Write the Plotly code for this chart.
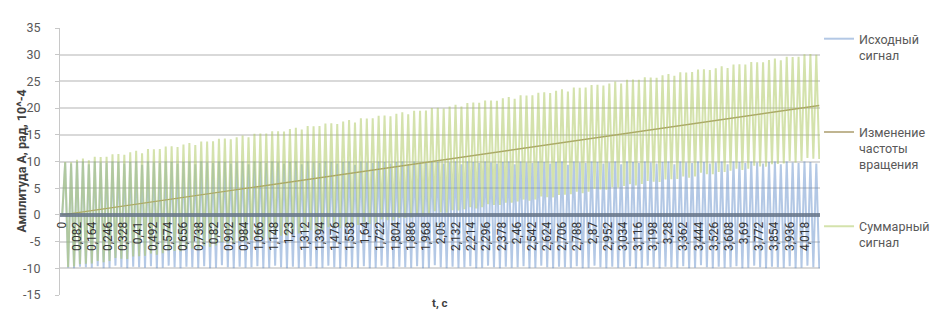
import plotly.graph_objects as go

# ---------------- data ----------------
SAMPLE_STEP = 0.016  # s between samples

# Исходный сигнал (oscillating, amplitude ~10)
BLUE = [
    0, 9.8, -9.9, 9.6, -10, 9.9, -9.7, 10, -9.8, 9.5, -9.9, 10, -9.6, 9.8, -10, 9.7,
    -9.9, 10, -9.5, 9.9, -9.8, 9.6, -10, 9.9, -9.7, 10, -9.8, 9.4, -9.9, 10, -9.6, 9.8,
    -10, 9.7, -9.9, 10, -9.5, 9.9, -9.8, 9.6, -10, 9.9, -9.7, 10, -9.8, 9.5, -9.9, 10,
    -9.6, 9.8, -10, 9.7, -9.9, 10, -9.4, 9.9, -9.8, 9.6, -10, 9.8, -9.7, 10, -9.9, 9.5,
    -9.8, 10, -9.6, 9.9, -10, 9.7, -9.9, 10, -9.5, 9.8, -9.8, 9.6, -10, 9.9, -9.7, 10,
    -9.9, 9.5, -9.8, 10, -9.6, 9.8, -10, 9.7, -9.9, 10, -9.5, 9.9, -9.8, 9.6, -10, 9.9,
    -9.7, 10, -9.8, 9.4, -9.9, 10, -9.6, 9.8, -10, 9.7, -9.9, 10, -9.5, 9.9, -9.8, 9.6,
    -10, 9.9, -9.7, 10, -9.8, 9.5, -9.9, 10, -9.6, 9.8, -10, 9.7, -9.9, 10, -9.4, 9.9,
    -9.8, 9.6, -10, 9.8, -9.7, 10, -9.9, 9.5, -9.8, 10, -9.6, 9.9, -10, 9.7, -9.9, 10,
    -9.5, 9.8, -9.8, 9.6, -10, 9.9, -9.7, 10, -9.9, 9.5, -9.8, 10, -9.6, 9.8, -10, 9.7,
    -9.9, 10, -9.5, 9.9, -9.8, 9.6, -10, 9.9, -9.7, 10, -9.8, 9.4, -9.9, 10, -9.6, 9.8,
    -10, 9.7, -9.9, 10, -9.5, 9.9, -9.8, 9.6, -10, 9.8, -9.7, 10, -9.9, 9.5, -9.8, 10,
    -9.6, 9.9, -10, 9.7, -9.9, 10, -9.5, 9.8, -9.8, 9.6, -10, 9.9, -9.7, 10, -9.8, 9.5,
    -9.9, 10, -9.6, 9.8, -10, 9.7, -9.9, 10, -9.4, 9.9, -9.8, 9.6, -10, 9.8, -9.7, 10,
    -9.9, 9.5, -9.8, 10, -9.6, 9.9, -10, 9.7, -9.9, 10, -9.5, 9.8, -9.8, 9.6, -10, 9.9,
    -9.7, 10, -9.8, 9.5, -9.9, 10, -9.6, 9.8, -10, 9.7, -9.9, 10, -9.5, 9.9, -9.8, 9.6,
    -10,
]

# Изменение частоты вращения (slow linear rise)
TREND = [
    0, 0.08, 0.16, 0.24, 0.32, 0.40, 0.48, 0.56, 0.64, 0.72, 0.80, 0.88, 0.96, 1.04, 1.12, 1.20,
    1.28, 1.36, 1.44, 1.52, 1.60, 1.68, 1.76, 1.84, 1.92, 2.00, 2.08, 2.16, 2.24, 2.32, 2.40, 2.48,
    2.56, 2.64, 2.72, 2.80, 2.88, 2.96, 3.04, 3.12, 3.20, 3.28, 3.36, 3.44, 3.52, 3.60, 3.68, 3.76,
    3.84, 3.92, 4.00, 4.08, 4.16, 4.24, 4.32, 4.40, 4.48, 4.56, 4.64, 4.72, 4.80, 4.88, 4.96, 5.04,
    5.12, 5.20, 5.28, 5.36, 5.44, 5.52, 5.60, 5.68, 5.76, 5.84, 5.92, 6.00, 6.08, 6.16, 6.24, 6.32,
    6.40, 6.48, 6.56, 6.64, 6.72, 6.80, 6.88, 6.96, 7.04, 7.12, 7.20, 7.28, 7.36, 7.44, 7.52, 7.60,
    7.68, 7.76, 7.84, 7.92, 8.00, 8.08, 8.16, 8.24, 8.32, 8.40, 8.48, 8.56, 8.64, 8.72, 8.80, 8.88,
    8.96, 9.04, 9.12, 9.20, 9.28, 9.36, 9.44, 9.52, 9.60, 9.68, 9.76, 9.84, 9.92, 10.00, 10.08, 10.16,
    10.24, 10.32, 10.40, 10.48, 10.56, 10.64, 10.72, 10.80, 10.88, 10.96, 11.04, 11.12, 11.20, 11.28, 11.36, 11.44,
    11.52, 11.60, 11.68, 11.76, 11.84, 11.92, 12.00, 12.08, 12.16, 12.24, 12.32, 12.40, 12.48, 12.56, 12.64, 12.72,
    12.80, 12.88, 12.96, 13.04, 13.12, 13.20, 13.28, 13.36, 13.44, 13.52, 13.60, 13.68, 13.76, 13.84, 13.92, 14.00,
    14.08, 14.16, 14.24, 14.32, 14.40, 14.48, 14.56, 14.64, 14.72, 14.80, 14.88, 14.96, 15.04, 15.12, 15.20, 15.28,
    15.36, 15.44, 15.52, 15.60, 15.68, 15.76, 15.84, 15.92, 16.00, 16.08, 16.16, 16.24, 16.32, 16.40, 16.48, 16.56,
    16.64, 16.72, 16.80, 16.88, 16.96, 17.04, 17.12, 17.20, 17.28, 17.36, 17.44, 17.52, 17.60, 17.68, 17.76, 17.84,
    17.92, 18.00, 18.08, 18.16, 18.24, 18.32, 18.40, 18.48, 18.56, 18.64, 18.72, 18.80, 18.88, 18.96, 19.04, 19.12,
    19.20, 19.28, 19.36, 19.44, 19.52, 19.60, 19.68, 19.76, 19.84, 19.92, 20.00, 20.08, 20.16, 20.24, 20.32, 20.40,
    20.48,
]

# Суммарный сигнал = Исходный + Изменение частоты
SUM = [b + tr for b, tr in zip(BLUE, TREND)]

T = [round(i * SAMPLE_STEP, 3) for i in range(len(BLUE))]

X_TICK_VALUES = [
    0, 0.082, 0.164, 0.246, 0.328, 0.41, 0.492, 0.574, 0.656, 0.738,
    0.82, 0.902, 0.984, 1.066, 1.148, 1.23, 1.312, 1.394, 1.476, 1.558,
    1.64, 1.722, 1.804, 1.886, 1.968, 2.05, 2.132, 2.214, 2.296, 2.378,
    2.46, 2.542, 2.624, 2.706, 2.788, 2.87, 2.952, 3.034, 3.116, 3.198,
    3.28, 3.362, 3.444, 3.526, 3.608, 3.69, 3.772, 3.854, 3.936, 4.018,
]
X_TICK_LABELS = [
    "0", "0,082", "0,164", "0,246", "0,328", "0,41", "0,492", "0,574", "0,656", "0,738",
    "0,82", "0,902", "0,984", "1,066", "1,148", "1,23", "1,312", "1,394", "1,476", "1,558",
    "1,64", "1,722", "1,804", "1,886", "1,968", "2,05", "2,132", "2,214", "2,296", "2,378",
    "2,46", "2,542", "2,624", "2,706", "2,788", "2,87", "2,952", "3,034", "3,116", "3,198",
    "3,28", "3,362", "3,444", "3,526", "3,608", "3,69", "3,772", "3,854", "3,936", "4,018",
]
Y_TICK_VALUES = [-15, -10, -5, 0, 5, 10, 15, 20, 25, 30, 35]
Y_TICK_LABELS = ["-15", "-10", "-5", "0", "5", "10", "15", "20", "25", "30", "35"]

SERIES_NAMES = ["Исходный<br>сигнал", "Изменение<br>частоты<br>вращения", "Суммарный<br>сигнал"]

# ---------------- figure ----------------
FONT = "Roboto, 'Noto Sans', sans-serif"
W, H = 939, 310
ML, MR, MT, MB = 52, 106, 15, 23
PW = W - ML - MR
PH = H - MT - MB

fig = go.Figure()
fig.add_trace(go.Scatter(x=T, y=BLUE, mode="lines", name=SERIES_NAMES[0],
                         line=dict(color="rgba(96,140,200,0.48)", width=2),
                         legend="legend"))
fig.add_trace(go.Scatter(x=T, y=TREND, mode="lines", name=SERIES_NAMES[1],
                         line=dict(color="#ab9c6c", width=1.4),
                         legend="legend2"))
fig.add_trace(go.Scatter(x=T, y=SUM, mode="lines", name=SERIES_NAMES[2],
                         line=dict(color="rgba(172,200,95,0.52)", width=2),
                         legend="legend3"))

def lx(px):
    return (px - ML) / PW

def ly(py):
    return (H - MB - py) / PH

legend_common = dict(
    xanchor="left", yanchor="top", valign="top",
    font=dict(family=FONT, size=12.5, color="#595959"),
    bgcolor="rgba(0,0,0,0)", itemwidth=30,
)

fig.update_layout(
    width=W, height=H,
    margin=dict(l=ML, r=MR, t=MT, b=MB),
    paper_bgcolor="white", plot_bgcolor="white",
    font=dict(family=FONT, color="#404040"),
    showlegend=True,
    legend=dict(x=lx(832), y=ly(11), **legend_common),
    legend2=dict(x=lx(832), y=ly(106), **legend_common),
    legend3=dict(x=lx(832), y=ly(202), **legend_common),
    xaxis=dict(
        range=[-0.012, 4.1],
        anchor="free", position=0.3,
        showline=True, linecolor="rgba(100,115,135,0.8)", linewidth=4,
        showgrid=False, zeroline=False,
        tickmode="array", tickvals=X_TICK_VALUES, ticktext=X_TICK_LABELS,
        tickangle=-90, ticks="",
        tickfont=dict(family=FONT, size=12, color="#333333"),
    ),
    yaxis=dict(
        range=[-15, 35],
        tickmode="array", tickvals=Y_TICK_VALUES, ticktext=Y_TICK_LABELS,
        showgrid=True, gridcolor="#d9d9d9", gridwidth=1.5,
        zeroline=False,
        showline=True, linecolor="#c8c8c8", linewidth=1,
        ticks="outside", ticklen=4, tickcolor="#c8c8c8",
        ticklabelstandoff=12,
        tickfont=dict(family=FONT, size=12.5, color="#595959"),
    ),
    annotations=[
        dict(text="<b>Амплитуда А, рад, 10^-4</b>", textangle=-90,
             xref="paper", yref="paper", x=lx(12), y=0.5,
             xanchor="center", yanchor="middle", showarrow=False,
             font=dict(family=FONT, size=12.5, color="#404040")),
        dict(text="<b>t, c</b>",
             xref="paper", yref="paper", x=0.5, y=ly(295),
             xanchor="center", yanchor="middle", showarrow=False,
             font=dict(family=FONT, size=11.5, color="#404040")),
    ],
)

fig.write_html("out.html")
